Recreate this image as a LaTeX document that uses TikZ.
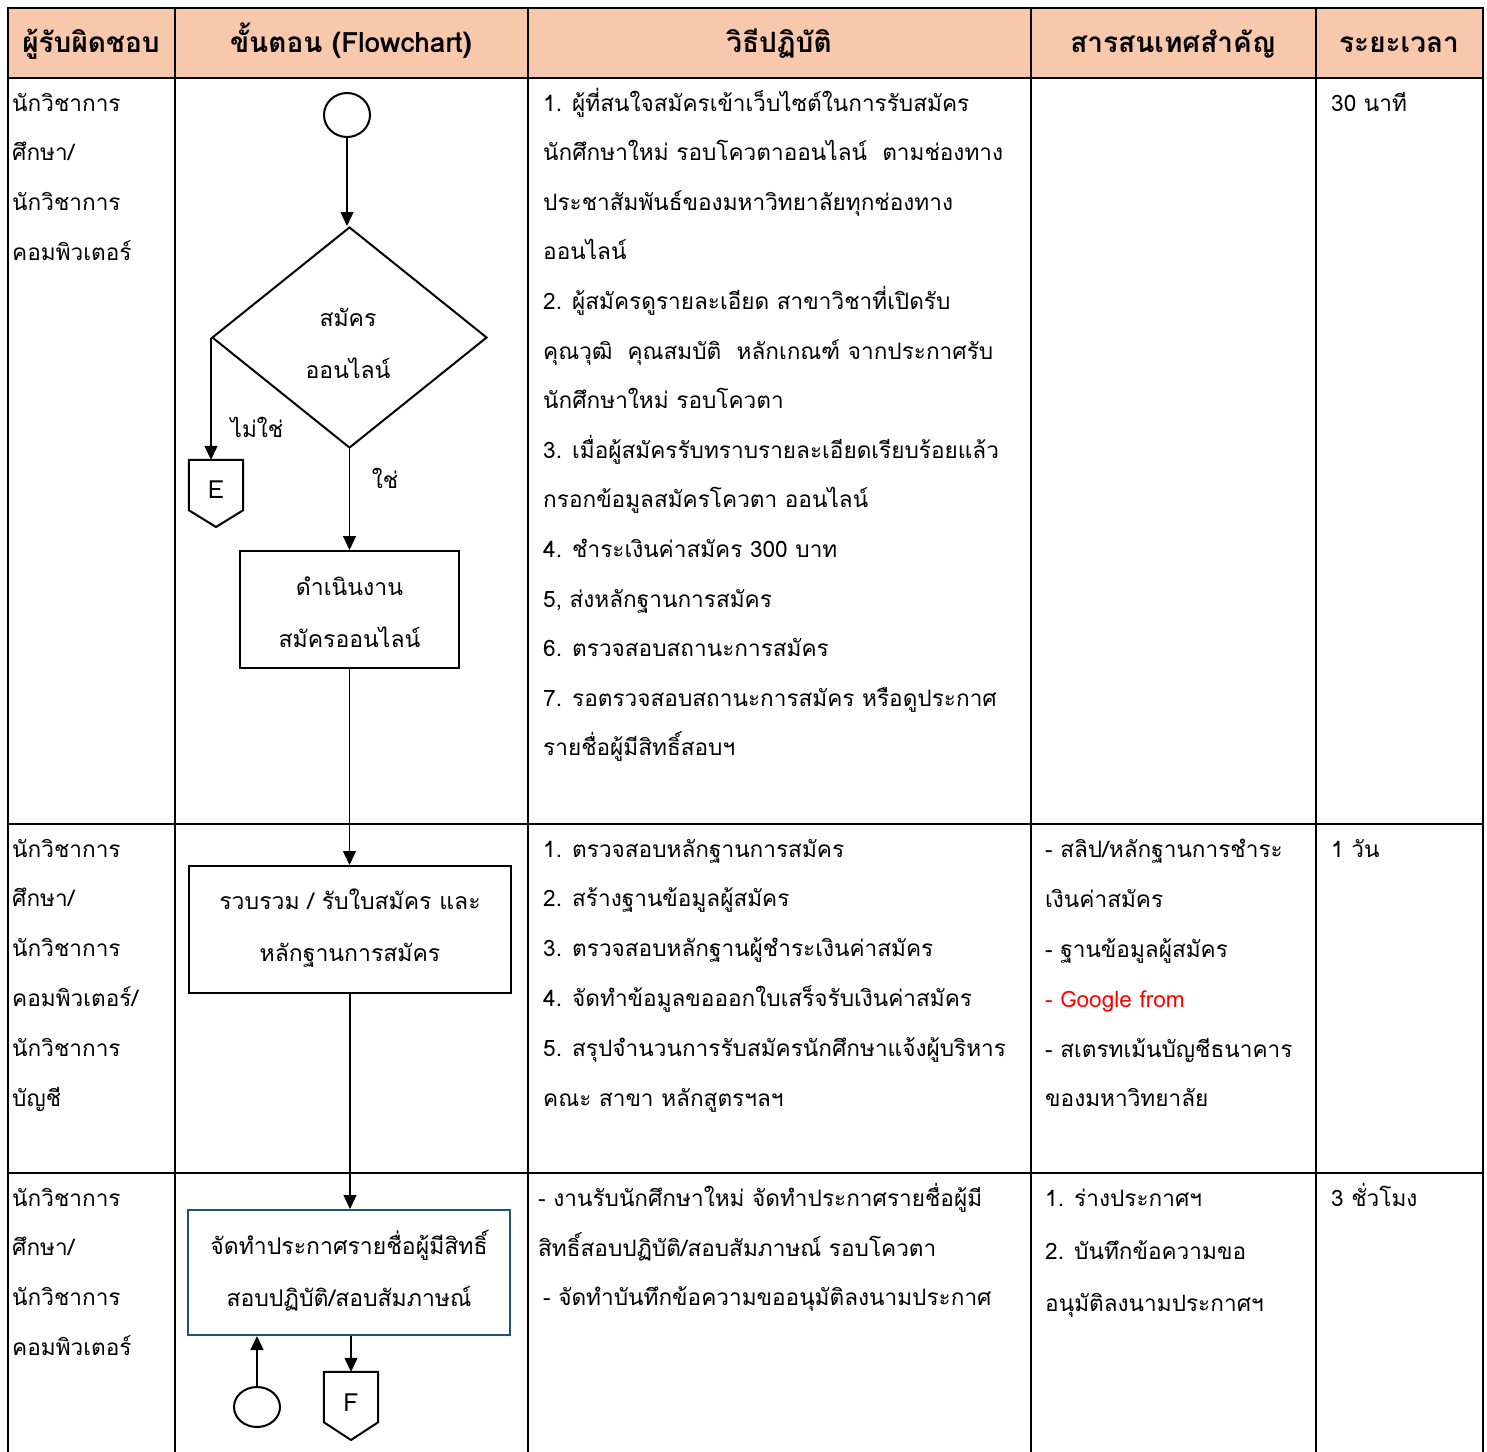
\documentclass[tikz,border=0pt]{standalone}
\usepackage{fontspec}
\setmainfont[Script=Thai]{Loma}
\usetikzlibrary{arrows.meta,shapes.geometric}
\definecolor{hdrfill}{HTML}{F8C8AC}
\definecolor{tealb}{HTML}{1F5470}
\definecolor{gred}{HTML}{FF0000}
\tikzset{
  tbl/.style={line width=2.4pt, line cap=rect},
  flow/.style={line width=1.3pt, -{Triangle[length=14pt,width=13pt]}},
  shp/.style={draw, line width=2pt, inner sep=0pt},
  txt/.style={font=\fontsize{22.6}{27}\selectfont, inner sep=0pt, anchor=base west},
  hd/.style={font=\fontsize{28}{32}\selectfont\bfseries, inner sep=0pt, anchor=base},
  ftxt/.style={font=\fontsize{23}{52}\selectfont, inner sep=0pt, align=center},
  conn/.style={minimum width=54pt, minimum height=50pt, inner sep=0pt},
  ctxt/.style={font=\fontsize{25}{30}\selectfont, inner sep=0pt}
}
\begin{document}
\begin{tikzpicture}[x=1pt,y=-1pt]
\useasboundingbox (0,0) rectangle (1487,1451);
\fill[white] (0,0) rectangle (1487,1451);
\fill[hdrfill] (8,8) rectangle (1483,78);
% table grid
\foreach \yy in {8,78,824,1173} { \draw[tbl] (8,\yy) -- (1483,\yy); }
\foreach \xx in {8,175,528,1031,1316,1483} { \draw[tbl] (\xx,8) -- (\xx,1451); }
% header
\node[hd] (h1) at (91,52) {ผู้รับผิดชอบ};
\node[hd] (h2) at (351,52) {ขั้นตอน (Flowchart)};
\node[hd] (h3) at (779,52) {วิธีปฏิบัติ};
\node[hd] (h4) at (1173,52) {สารสนเทศสำคัญ};
\node[hd] (h5) at (1399,52) {ระยะเวลา};
% column 1
\foreach \t [count=\i] in {{นักวิชาการ},{ศึกษา/},{นักวิชาการ},{คอมพิวเตอร์}}
  { \node[txt] (ra\i) at (12,{111+(\i-1)*49.7}) {\t}; }
\foreach \t [count=\i] in {{นักวิชาการ},{ศึกษา/},{นักวิชาการ},{คอมพิวเตอร์/},{นักวิชาการ},{บัญชี}}
  { \node[txt] (rb\i) at (12,{857+(\i-1)*49.9}) {\t}; }
\foreach \t [count=\i] in {{นักวิชาการ},{ศึกษา/},{นักวิชาการ},{คอมพิวเตอร์}}
  { \node[txt] (rc\i) at (12,{1206+(\i-1)*49.7}) {\t}; }
% column 3
\foreach \t [count=\i] in {
 {1. ผู้ที่สนใจสมัครเข้าเว็บไซต์ในการรับสมัคร},
 {นักศึกษาใหม่ รอบโควตาออนไลน์\ \ ตามช่องทาง},
 {ประชาสัมพันธ์ของมหาวิทยาลัยทุกช่องทาง},
 {ออนไลน์},
 {2. ผู้สมัครดูรายละเอียด สาขาวิชาที่เปิดรับ},
 {คุณวุฒิ\ \ คุณสมบัติ\ \ หลักเกณฑ์ จากประกาศรับ},
 {นักศึกษาใหม่ รอบโควตา},
 {3. เมื่อผู้สมัครรับทราบรายละเอียดเรียบร้อยแล้ว},
 {กรอกข้อมูลสมัครโควตา ออนไลน์},
 {4. ชำระเงินค่าสมัคร 300 บาท},
 {5, ส่งหลักฐานการสมัคร},
 {6. ตรวจสอบสถานะการสมัคร},
 {7. รอตรวจสอบสถานะการสมัคร หรือดูประกาศ},
 {รายชื่อผู้มีสิทธิ์สอบฯ}}
  { \node[txt] (pa\i) at (543,{111+(\i-1)*49.6}) {\t}; }
\foreach \t [count=\i] in {
 {1. ตรวจสอบหลักฐานการสมัคร},
 {2. สร้างฐานข้อมูลผู้สมัคร},
 {3. ตรวจสอบหลักฐานผู้ชำระเงินค่าสมัคร},
 {4. จัดทำข้อมูลขอออกใบเสร็จรับเงินค่าสมัคร},
 {5. สรุปจำนวนการรับสมัครนักศึกษาแจ้งผู้บริหาร},
 {คณะ สาขา หลักสูตรฯลฯ}}
  { \node[txt] (pb\i) at (543,{857+(\i-1)*49.8}) {\t}; }
\node[txt] (pc1) at (538,1206) {- งานรับนักศึกษาใหม่ จัดทำประกาศรายชื่อผู้มี};
\node[txt] (pc2) at (538,1256) {สิทธิ์สอบปฏิบัติ/สอบสัมภาษณ์ รอบโควตา};
\node[txt] (pc3) at (543,1305) {- จัดทำบันทึกข้อความขออนุมัติลงนามประกาศ};
% column 4
\node[txt] (ib1) at (1045,857) {- สลิป/หลักฐานการชำระ};
\node[txt] (ib2) at (1045,907) {เงินค่าสมัคร};
\node[txt] (ib3) at (1045,957) {- ฐานข้อมูลผู้สมัคร};
\node[txt, text=gred] (ib4) at (1045,1007) {- Google from};
\node[txt] (ib5) at (1045,1057) {- สเตรทเม้นบัญชีธนาคาร};
\node[txt] (ib6) at (1045,1106) {ของมหาวิทยาลัย};
\node[txt] (ic1) at (1045,1206) {1. ร่างประกาศฯ};
\node[txt] (ic2) at (1045,1259) {2. บันทึกข้อความขอ};
\node[txt] (ic3) at (1045,1311) {อนุมัติลงนามประกาศฯ};
% column 5
\node[txt] (ta) at (1331,111) {30 นาที};
\node[txt] (tb) at (1331,857) {1 วัน};
\node[txt] (tc) at (1331,1206) {3 ชั่วโมง};
% flowchart
\node[shp, ellipse, minimum width=46pt, minimum height=44pt] (start) at (347,115) {};
\node[shp, diamond, minimum width=275pt, minimum height=221pt] (dec) at (349.5,337.5) {};
\node[ftxt] (dect) at (348,343) {สมัคร\\ออนไลน์};
\node[conn] (E) at (216,485) {};
\draw[line width=2pt] (E.north west) -- (E.north east) -- (E.south east) -- (216,527) -- (E.south west) -- cycle;
\node[ctxt] (Et) at (216,490) {E};
\node[shp, minimum width=219pt, minimum height=117pt] (b1) at (349.5,609.5) {};
\node[ftxt] (b1t) at (349.5,612) {ดำเนินงาน\\สมัครออนไลน์};
\node[shp, minimum width=322pt, minimum height=127pt] (b2) at (350,929.5) {};
\node[ftxt] (b2t) at (350,928) {รวบรวม / รับใบสมัคร และ\\หลักฐานการสมัคร};
\node[shp, draw=tealb, minimum width=322pt, minimum height=125pt] (b3) at (349,1272.5) {};
\node[ftxt] (b3t) at (349,1271) {จัดทำประกาศรายชื่อผู้มีสิทธิ์\\สอบปฏิบัติ/สอบสัมภาษณ์};
\node[conn] (F) at (351,1397) {};
\draw[line width=2pt] (F.north west) -- (F.north east) -- (F.south east) -- (351,1440) -- (F.south west) -- cycle;
\node[ctxt] (Ft) at (351,1403) {F};
\node[shp, ellipse, minimum width=46pt, minimum height=40pt] (c2) at (257,1407) {};
% connectors
\draw[flow] (start.south) -- (start.south |- dec.north);
\draw[flow] (dec.west) -- (dec.west |- E.north);
\draw[flow] (dec.south) -- (dec.south |- b1.north);
\draw[flow] (b1.south) -- (b1.south |- b2.north);
\draw[flow] (b2.south) -- (b2.south |- b3.north);
\draw[flow] (b3.south -| F.north) -- (F.north);
\draw[flow] (c2.north) -- (c2.north |- b3.south);
\node[txt, anchor=center] (no) at (257,427) {ไม่ใช่};
\node[txt, anchor=center] (yes) at (385,478) {ใช่};
\end{tikzpicture}
\end{document}
